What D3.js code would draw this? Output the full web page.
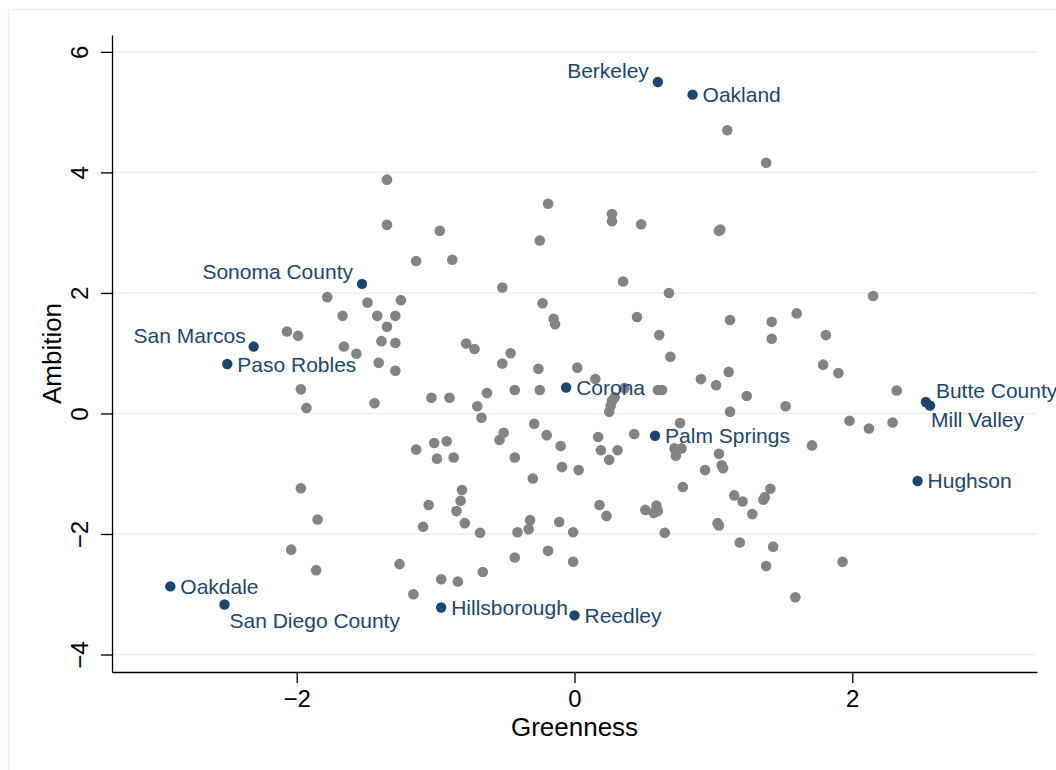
<!DOCTYPE html>
<html>
<head>
<meta charset="utf-8">
<script src="https://cdn.jsdelivr.net/npm/d3@7"></script>
<style>
  html, body { margin: 0; padding: 0; background: #ffffff; }
  svg { display: block; }
  text { font-family: "Liberation Sans", Arial, Helvetica, sans-serif; }
</style>
</head>
<body>
<svg id="chart" width="1056" height="770"></svg>
<script>
// ---------------- DATA ----------------
const greenness = [
  -1.35, -1.35, -0.97, -1.14, -0.88, -1.78, -1.49, -1.25, -1.67, -1.42,
  -1.29, -1.35, -2.07, -1.99, -1.66, -1.57, -1.39, -1.29, -1.41, -1.29,
  -1.97, -1.93, -1.44, -1.03, -0.90, -0.19, 0.27, 0.27, 0.48, 1.04,
  1.05, -0.25, 0.35, -0.52, 0.68, -0.23, -0.15, -0.14, 0.45, 1.12,
  0.61, 0.69, -0.78, -0.72, -0.46, -0.52, -0.26, 0.02, 0.15, 0.91,
  1.02, 1.11, 1.24, -0.63, -0.70, -0.67, -0.43, -0.25, 0.36, 0.29,
  0.27, 0.26, 0.25, 0.60, 0.63, 1.12, -0.29, -0.20, -0.10, -0.51,
  -0.54, 0.17, 0.43, 0.76, 0.72, 0.77, 0.73, 0.19, 0.31, 0.25,
  1.04, -1.14, -1.01, -0.92, -0.99, -0.87, -0.43, -0.09, 0.03, -0.30,
  -1.97, -0.81, -0.82, -0.85, -1.05, -0.79, -1.09, -0.68, -1.85, -0.32,
  -0.33, -0.41, -0.11, -0.01, 0.18, -2.04, -1.86, -1.26, -0.96, -0.84,
  -0.66, -0.43, -0.19, -0.01, -1.16, 1.52, 1.98, 1.71, 0.94, 1.06,
  1.07, 0.78, 1.15, 1.21, 1.36, 1.37, 1.41, 1.28, 0.23, 0.51,
  0.59, 0.60, 0.57, 1.03, 1.04, 0.65, 1.19, 1.43, 1.38, 1.93,
  1.59, 1.10, 1.38, 2.15, 1.60, 1.42, 1.42, 1.81, 1.79, 1.90,
  2.32, 2.12, 2.29
];
const ambition = [
  3.88, 3.13, 3.03, 2.53, 2.55, 1.93, 1.84, 1.88, 1.62, 1.62,
  1.62, 1.44, 1.36, 1.29, 1.11, 0.99, 1.20, 1.17, 0.84, 0.71,
  0.40, 0.09, 0.17, 0.26, 0.26, 3.48, 3.31, 3.19, 3.14, 3.03,
  3.05, 2.87, 2.19, 2.09, 2.00, 1.83, 1.57, 1.48, 1.60, 1.55,
  1.30, 0.94, 1.16, 1.07, 1.00, 0.83, 0.74, 0.76, 0.57, 0.57,
  0.47, 0.69, 0.29, 0.34, 0.12, -0.07, 0.39, 0.39, 0.42, 0.27,
  0.21, 0.13, 0.03, 0.39, 0.39, 0.03, -0.17, -0.36, -0.54, -0.32,
  -0.44, -0.39, -0.34, -0.16, -0.58, -0.58, -0.70, -0.61, -0.61, -0.77,
  -0.67, -0.60, -0.49, -0.46, -0.75, -0.73, -0.73, -0.89, -0.94, -1.08,
  -1.24, -1.27, -1.45, -1.62, -1.52, -1.82, -1.88, -1.98, -1.76, -1.77,
  -1.92, -1.97, -1.80, -1.97, -1.52, -2.26, -2.60, -2.50, -2.75, -2.79,
  -2.63, -2.39, -2.28, -2.46, -3.00, 0.12, -0.12, -0.53, -0.94, -0.86,
  -0.91, -1.22, -1.36, -1.46, -1.43, -1.39, -1.25, -1.67, -1.70, -1.60,
  -1.53, -1.62, -1.65, -1.82, -1.86, -1.98, -2.14, -2.21, -2.53, -2.46,
  -3.05, 4.70, 4.16, 1.95, 1.66, 1.52, 1.24, 1.30, 0.81, 0.67,
  0.38, -0.25, -0.15
];
const cityNames = [
  "Berkeley", "Oakland", "Sonoma County", "San Marcos", "Paso Robles",
  "Corona", "Palm Springs", "Butte County", "Mill Valley", "Hughson",
  "Oakdale", "San Diego County", "Hillsborough", "Reedley"
];
const cityGreenness = [0.60, 0.85, -1.53, -2.31, -2.50, -0.06, 0.58, 2.53, 2.56, 2.47, -2.91, -2.52, -0.96, 0.00];
const cityAmbition  = [5.50, 5.29, 2.15, 1.11, 0.82, 0.43, -0.37, 0.19, 0.13, -1.12, -2.87, -3.17, -3.22, -3.35];
const xTicks = [-2, 0, 2];
const yTicks = [-4, -2, 0, 2, 4, 6];
const xTitle = "Greenness";
const yTitle = "Ambition";

// ---------------- STYLE ----------------
const W = 1056, H = 770;
const plot = { left: 112, right: 1037, top: 35, bottom: 672 };
const xDomain = [-3.33, 3.33];
const yDomain = [-4.29, 6.28];
const gridColor = "#e9f1f3";
const greyColor = "#838383";
const navyColor = "#1a476f";
// label placement (marker-label offsets, in px)
const labelStyle = {
  "Berkeley":         { anchor: "end",   dx: -9, dy: -4 },
  "Sonoma County":    { anchor: "end",   dx: -9, dy: -4.5 },
  "San Marcos":       { anchor: "end",   dx: -8, dy: -4 },
  "Butte County":     { anchor: "start", dx: 10, dy: -3.7 },
  "Mill Valley":      { anchor: "start", dx: 1,  dy: 21 },
  "San Diego County": { anchor: "start", dx: 5,  dy: 23.6 },
  default:            { anchor: "start", dx: 10, dy: 7.5 }
};

const svg = d3.select("#chart");

// graph region border (extends past the window at right/bottom)
svg.append("rect")
  .attr("x", 8.5).attr("y", 9.5)
  .attr("width", 1100).attr("height", 800)
  .attr("fill", "#ffffff")
  .attr("stroke", gridColor).attr("stroke-width", 1.6);

const x = d3.scaleLinear().domain(xDomain).range([plot.left, plot.right]);
const y = d3.scaleLinear().domain(yDomain).range([plot.bottom, plot.top]);

// gridlines
svg.append("g").selectAll("line").data(yTicks).join("line")
  .attr("x1", plot.left).attr("x2", plot.right)
  .attr("y1", d => y(d)).attr("y2", d => y(d))
  .attr("stroke", gridColor).attr("stroke-width", 1.6);

// axes
const fmt = d3.format("d");
const xAxis = d3.axisBottom(x).tickValues(xTicks).tickFormat(fmt).tickSize(11).tickPadding(6).tickSizeOuter(0);
const yAxis = d3.axisLeft(y).tickValues(yTicks).tickFormat(fmt).tickSize(11).tickPadding(0).tickSizeOuter(0);

const gx = svg.append("g").attr("transform", `translate(0,${plot.bottom})`).call(xAxis);
gx.select(".domain").attr("stroke", "#000").attr("stroke-width", 1.3);
gx.selectAll(".tick line").attr("stroke", "#000").attr("stroke-width", 1.3);
gx.selectAll(".tick text")
  .attr("fill", "#000").attr("font-size", 24)
  .attr("y", 35).attr("dy", null);

const gy = svg.append("g").attr("transform", `translate(${plot.left},0)`).call(yAxis);
gy.select(".domain").attr("stroke", "#000").attr("stroke-width", 1.3);
gy.selectAll(".tick line").attr("stroke", "#000").attr("stroke-width", 1.3);
gy.selectAll(".tick text")
  .attr("fill", "#000").attr("font-size", 24)
  .attr("x", null).attr("dy", null)
  .attr("text-anchor", "middle")
  .attr("transform", "translate(-24,0) rotate(-90)");

[gx, gy].forEach(g => g.attr("font-family", null));

// axis titles
svg.append("text")
  .attr("x", (plot.left + plot.right) / 2).attr("y", 736)
  .attr("text-anchor", "middle").attr("font-size", 26).attr("fill", "#000")
  .text(xTitle);
svg.append("text")
  .attr("transform", `translate(61,${(plot.top + plot.bottom) / 2}) rotate(-90)`)
  .attr("text-anchor", "middle").attr("font-size", 26).attr("fill", "#000")
  .text(yTitle);

// grey points
const grey = greenness.map((g, i) => ({ g, a: ambition[i] }));
svg.append("g").selectAll("circle").data(grey).join("circle")
  .attr("cx", d => x(d.g)).attr("cy", d => y(d.a)).attr("r", 5.3)
  .attr("fill", greyColor);

// highlighted cities
const cities = cityNames.map((n, i) => ({ n, g: cityGreenness[i], a: cityAmbition[i] }));
const cg = svg.append("g");
cg.selectAll("circle").data(cities).join("circle")
  .attr("cx", d => x(d.g)).attr("cy", d => y(d.a)).attr("r", 5.2)
  .attr("fill", navyColor);
cg.selectAll("text").data(cities).join("text")
  .each(function(d) {
    const s = labelStyle[d.n] || labelStyle.default;
    d3.select(this)
      .attr("x", x(d.g) + s.dx).attr("y", y(d.a) + s.dy)
      .attr("text-anchor", s.anchor);
  })
  .attr("font-size", 21).attr("fill", navyColor)
  .text(d => d.n);
</script>
</body>
</html>
